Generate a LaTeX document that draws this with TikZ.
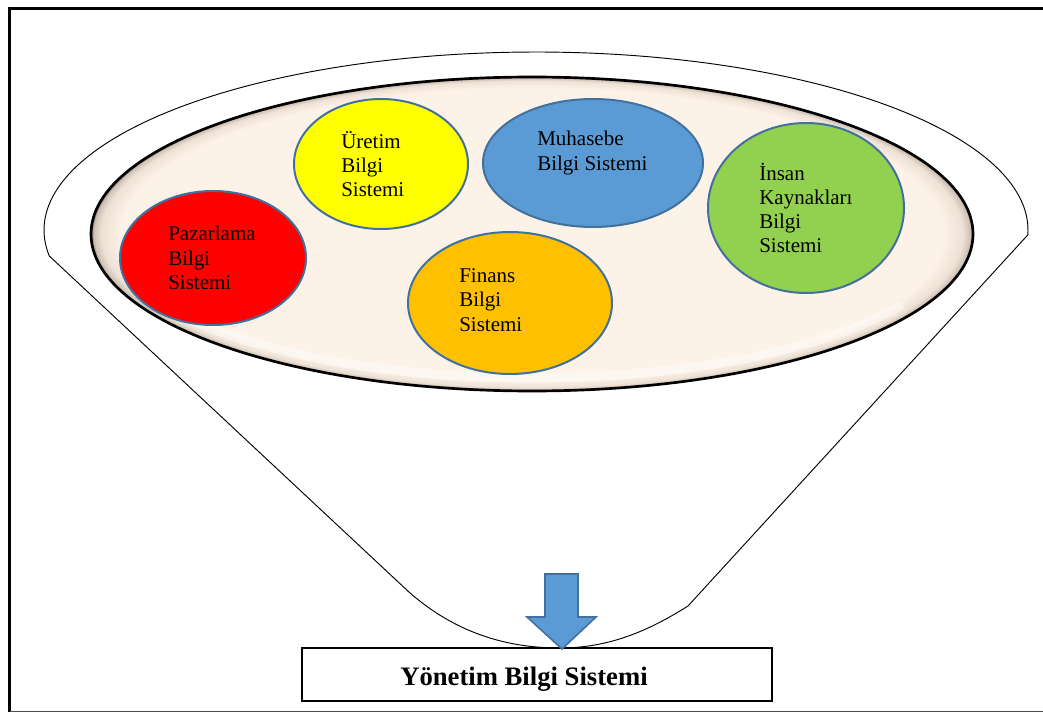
\documentclass[tikz,border=0pt]{standalone}
\usepackage{fontspec}
\setmainfont{Liberation Serif}
\usetikzlibrary{shapes.geometric}

\definecolor{plate}{RGB}{253,242,231}
\definecolor{platerim}{RGB}{238,225,214}
\definecolor{platemid}{RGB}{205,192,181}
\definecolor{platedark}{RGB}{120,110,102}
\definecolor{edgeblue}{RGB}{65,113,156}
\definecolor{fillred}{RGB}{255,0,0}
\definecolor{fillyellow}{RGB}{255,255,0}
\definecolor{fillblue}{RGB}{91,155,213}
\definecolor{fillgreen}{RGB}{146,208,80}
\definecolor{fillorange}{RGB}{255,192,0}

% flat beige plate with a soft bevel just inside its rim
\pgfdeclareradialshading{platter}{\pgfpoint{0bp}{0bp}}{%
  color(0bp)=(plate); color(23.3bp)=(plate); color(24.4bp)=(platerim);
  color(24.85bp)=(platemid); color(25bp)=(platedark); color(50bp)=(platedark)}

\tikzset{
  funnel/.style={draw=black, line width=0.7pt},
  bubble/.style={ellipse, draw=edgeblue, line width=1.5pt, inner sep=0pt},
  label/.style={font=\fontsize{15.75}{18.2}\selectfont, align=left,
                inner sep=0pt, anchor=west, text=black},
  result/.style={draw=black, line width=2pt, fill=white,
                 minimum width=352.5pt, minimum height=39.75pt, inner sep=0pt},
  flowarrow/.style={fill=fillblue, draw=edgeblue, line width=1.2pt,
                    line join=miter}
}

\begin{document}
\begin{tikzpicture}[x=0.75pt, y=-0.75pt]
\useasboundingbox (0,0) rectangle (1043,713);

% page frame
\draw[line width=2pt] (1043,8.5) -- (9.5,8.5) -- (9.5,712);
\draw[line width=1.2pt, black!70] (9.5,711.6) -- (1043,711.6);

% funnel outline
\draw[funnel]
  plot[domain=171.6:361.6, samples=150] ({536+492*cos(\x)},{230+178*sin(\x)})
  -- (688,606)
  .. controls (650,630) and (610,648) .. (560,648)
  .. controls (505,648) and (455,632) .. (410,593)
  -- cycle;

% the plate holding the subsystems
\node[ellipse, minimum width=661.5pt, minimum height=235.5pt, inner sep=0pt,
      shading=platter, draw=black, line width=2pt] (plate) at (532,234) {};
\draw[white, line width=7pt, opacity=0.45, line cap=round]
  plot[domain=30:150, samples=80] ({532+425*cos(\x)},{234+144*sin(\x)});

% subsystems
\node[bubble, fill=fillred,    minimum width=139.5pt, minimum height=100.5pt] (paz) at (213,258) {};
\node[bubble, fill=fillyellow, minimum width=130.5pt, minimum height=97.5pt]  (ure) at (381,164) {};
\node[bubble, fill=fillblue,   minimum width=165pt,   minimum height=96pt]    (muh) at (593,163) {};
\node[bubble, fill=fillgreen,  minimum width=147pt,   minimum height=127.5pt] (ins) at (806,208) {};
\node[bubble, fill=fillorange, minimum width=153pt,   minimum height=106.5pt] (fin) at (510,303) {};

\node[label] (pazt) at (168,258) {Pazarlama\\Bilgi\\Sistemi};
\node[label] (uret) at (341,164) {Üretim\\Bilgi\\Sistemi};
\node[label] (muht) at (537,153) {Muhasebe\\Bilgi Sistemi};
\node[label] (inst) at (759,208) {İnsan\\Kaynakları\\Bilgi\\Sistemi};
\node[label] (fint) at (459,300) {Finans\\Bilgi\\Sistemi};

% result box
\node[result] (mis) at (537,674.5) {};
\node[font=\bfseries\fontsize{20}{24}\selectfont, inner sep=0pt, anchor=base west]
  (mist) at (400,685) {Yönetim Bilgi Sistemi};

% block arrow pointing down into the box
\coordinate (tip) at (562,649);
\draw[flowarrow] (545,574) -- (578,574) -- (578,617) -- (596,617) -- (tip)
  -- (527,617) -- (545,617) -- cycle;
\end{tikzpicture}
\end{document}
